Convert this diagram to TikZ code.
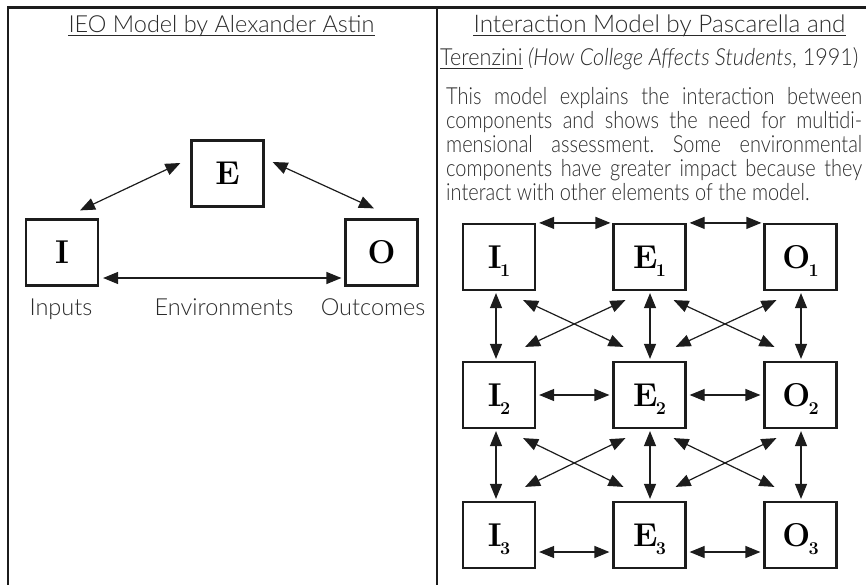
\documentclass[tikz,border=0pt]{standalone}
\usepackage{fontspec}
\IfFontExistsTF{Lato Light}{%
  \setmainfont{Lato Light}%
  \newfontfamily\narrowfont{Lato Light}[FakeStretch=0.85]%
  \newfontfamily\semifont{Lato Light}[FakeStretch=0.92]}{%
  \setmainfont{Lato}%
  \newfontfamily\narrowfont{Lato}[FakeStretch=0.85]%
  \newfontfamily\semifont{Lato}[FakeStretch=0.92]}
\newfontfamily\boxfont{Latin Modern Roman}
\usetikzlibrary{arrows.meta,calc}
\definecolor{ink}{HTML}{2A2A2A}
\definecolor{rule}{HTML}{1C1C1C}
\frenchspacing

% letter with a lowered index, the index hanging below the baseline
\newcommand{\sublab}[2]{#1\kern-1.5pt\raisebox{-8.5pt}[0pt][0pt]{\fontsize{18}{18}\selectfont #2}}

\tikzset{
  box/.style={draw=rule, line width=2.2pt, minimum width=72pt, minimum height=66pt,
    inner sep=0pt, font=\boxfont\bfseries\fontsize{33}{33}\selectfont},
  link/.style={draw=rule, line width=1.2pt,
    {Triangle[length=15pt,width=12pt]}-{Triangle[length=15pt,width=12pt]}},
  frame/.style={draw=rule, line width=2.4pt},
  txt/.style={inner sep=0pt, text=ink, font=\fontsize{23.5}{24}\selectfont},
  ntxt/.style={inner sep=0pt, text=ink, font=\narrowfont\fontsize{23.5}{24}\selectfont},
  stxt/.style={inner sep=0pt, text=ink, font=\semifont\fontsize{23.5}{24}\selectfont},
  uline/.style={draw=ink, line width=0.9pt},
}

\begin{document}
\begin{tikzpicture}[x=1pt,y=-1pt]
\useasboundingbox (0,0) rectangle (866,585);

% panel frame
\draw[frame] (8,585) -- (8,7.5) -- (866,7.5);
\draw[frame] (437,7.5) -- (437,585);

% ---------- left panel: IEO model ----------
\node[txt, anchor=base] (lt) at (221.5,33) {IEO Model by Alexander Astin};
\draw[uline] ($(lt.base west)+(0,2.5)$) -- ($(lt.base east)+(0,2.5)$);

\node[box] (E) at (227.5,173.5) {E};
\node[box] (I) at (62,252.5) {I};
\node[box] (O) at (381.5,252.5) {O};

\draw[link] ($(I.north)+(18,-8)$) -- ($(E.west)+(-10,-10.5)$);
\draw[link] ($(E.east)+(8,-11.5)$) -- ($(O.north)+(-7.5,-10)$);
\draw[link] ($(I.east)+(4,25.5)$) -- ($(O.west)+(-3,25.5)$);

\node[txt, anchor=base] (lin) at (61,315) {Inputs};
\node[txt, anchor=base] (lenv) at (224,315) {Environments};
\node[txt, anchor=base] (lout) at (373,315) {Outcomes};

% ---------- right panel: interaction model ----------
\node[txt, anchor=base, font=\fontsize{24.3}{24}\selectfont] (rt1) at (659.5,33)
  {Interaction Model by Pascarella and};
\draw[uline] ($(rt1.base west)+(0,2.5)$) -- ($(rt1.base east)+(0,2.5)$);
\node[stxt, anchor=base west] (rt2) at (440,66) {Terenzini};
\draw[uline] ($(rt2.base west)+(0,2.5)$) -- ($(rt2.base east)+(0,2.5)$);
\node[stxt, anchor=base west] (rt3) at ($(rt2.base east)+(5,0)$)
  {\textit{(How College Affects Students}, 1991)};

\node[ntxt, anchor=base west] (para) at (446,105) {%
  \begin{minipage}[t]{416pt}
  \makebox[416pt][s]{This model explains the interaction between}\\
  \makebox[416pt][s]{components and shows the need for multidi-}\\
  \makebox[416pt][s]{mensional assessment. Some environmental}\\
  \makebox[416pt][s]{components have greater impact because they}\\
  interact with other elements of the model.
  \end{minipage}};

% 3 x 3 grid of boxes
\node[box] (I1) at (499,257) {\sublab{I}{1}};
\node[box] (E1) at (649.5,257) {\sublab{E}{1}};
\node[box] (O1) at (800.5,257) {\sublab{O}{1}};
\node[box] (I2) at (499,395) {\sublab{I}{2}};
\node[box] (E2) at (649.5,395) {\sublab{E}{2}};
\node[box] (O2) at (800.5,395) {\sublab{O}{2}};
\node[box] (I3) at (499,535) {\sublab{I}{3}};
\node[box] (E3) at (649.5,535) {\sublab{E}{3}};
\node[box] (O3) at (800.5,535) {\sublab{O}{3}};

% horizontal links
\draw[link] ($(I1.north east)+(3,0)$) -- ($(E1.north west)+(-2,0)$);
\draw[link] ($(E1.north east)+(3,0)$) -- ($(O1.north west)+(-2,0)$);
\draw[link] ($(I2.east)+(3,0)$) -- ($(E2.west)+(-3,0)$);
\draw[link] ($(E2.east)+(3,0)$) -- ($(O2.west)+(-3,0)$);
\draw[link] ($(I3.east)+(3,17)$) -- ($(E3.west)+(-3,17)$);
\draw[link] ($(E3.east)+(3,17)$) -- ($(O3.west)+(-3,17)$);

% vertical links
\foreach \c/\dx in {I/-3, E/0.5, O/0.5}{
  \draw[link] ($(\c1.south)+(\dx,2)$) -- ($(\c2.north)+(\dx,-2)$);
  \draw[link] ($(\c2.south)+(\dx,2)$) -- ($(\c3.north)+(\dx,-2)$);
}

% crossing diagonal links
\foreach \a/\b in {I/E, E/O}{
  \foreach \r/\s in {1/2, 2/3}{
    \draw[link] ($(\a\r.south east)+(-13,9)$) -- ($(\b\s.north west)+(11,-14)$);
    \draw[link] ($(\a\s.north east)+(-11,-14)$) -- ($(\b\r.south west)+(13,9)$);
  }
}
\end{tikzpicture}
\end{document}
